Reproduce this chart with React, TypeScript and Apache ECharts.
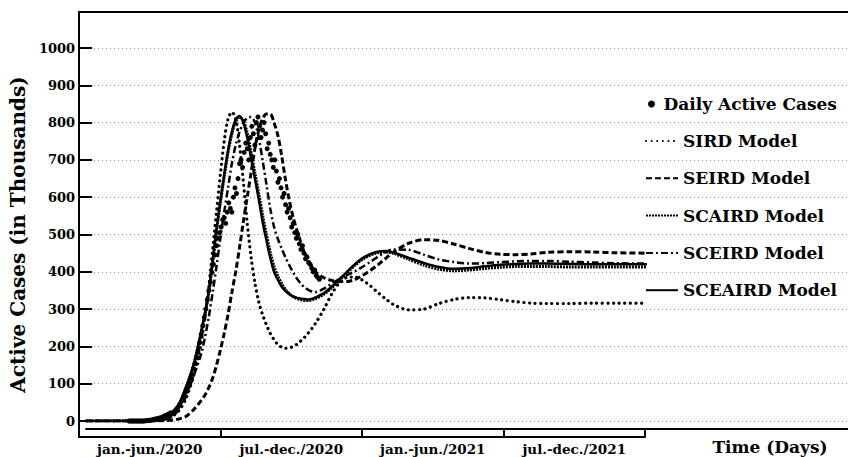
import React, { useEffect, useRef } from "react";
import * as echarts from "echarts";

const halfYears = ["jan.-jun./2020", "jul.-dec./2020", "jan.-jun./2021", "jul.-dec./2021"];

// Daily observed active cases (thousands), every 2 days starting at day 56
const dailyStart = 56;
const dailyStep = 2;
const dailyValues = [
  0, 0, 0, 0, 0, 0, 0, 0, 0, 0,
  0, 1, 1, 2, 2, 3, 4, 5, 6, 7,
  8, 9, 11, 13, 15, 17, 19, 22, 20, 24,
  28, 33, 38, 45, 52, 60, 68, 78, 88, 100,
  112, 125, 140, 155, 172, 190, 210, 232, 255, 278,
  300, 325, 350, 372, 398, 420, 445, 470, 490, 505,
  520, 540, 545, 530, 560, 585, 570, 560, 600, 625,
  610, 650, 690, 700, 680, 720, 745, 730, 700, 760,
  790, 770, 740, 800, 815, 790, 760, 780, 800, 770,
  730, 745, 715, 700, 680, 700, 670, 640, 650, 625,
  600, 610, 580, 560, 570, 545, 520, 530, 505, 490,
  500, 475, 460, 470, 450, 435, 440, 425, 420, 410,
  400, 405, 390, 385, 380,
];

const modelDays = [
  0, 30, 60, 90,
  100, 110, 120, 130, 140, 150,
  155, 160, 165, 170, 175, 180, 185, 190, 195, 200,
  205, 210, 215, 220, 225, 230, 235, 240, 245, 250,
  255, 260, 265, 270, 275, 280, 285, 290, 295, 300,
  310, 320, 330, 340, 350, 360, 370, 380, 390, 400,
  420, 440, 460, 480, 500, 520, 540, 560, 580, 600,
  630, 660, 690, 731,
];

const sirdValues = [
  0, 0, 0, 1,
  3, 10, 25, 60, 120, 210,
  280, 360, 460, 560, 660, 750, 810, 828, 810, 740,
  640, 530, 440, 370, 320, 285, 258, 235, 218, 205,
  198, 195, 196, 200, 206, 215, 225, 237, 250, 265,
  300, 340, 370, 385, 386, 378, 363, 345, 328, 313,
  298, 300, 315, 326, 331, 330, 325, 320, 316, 315,
  315, 316, 316, 316,
];

const seirdValues = [
  0, 0, 0, 0,
  1, 2, 5, 12, 30, 55,
  70, 90, 115, 150, 190, 235, 285, 345, 400, 465,
  535, 600, 665, 730, 780, 810, 823, 823, 800, 765,
  710, 645, 590, 545, 510, 478, 450, 430, 412, 398,
  384, 377, 374, 374, 379, 390, 403, 418, 435, 452,
  476, 486, 484, 474, 462, 452, 447, 446, 448, 452,
  454, 453, 451, 450,
];

const scairdValues = [
  0, 0, 0, 1,
  4, 14, 38, 88, 148, 236,
  286, 345, 425, 510, 585, 655, 720, 770, 803, 815,
  805, 772, 720, 665, 610, 552, 500, 452, 414, 388,
  368, 352, 341, 333, 328, 325, 323, 323, 325, 329,
  340, 357, 377, 397, 417, 433, 444, 451, 453, 450,
  434, 418, 407, 403, 405, 409, 412, 414, 414, 414,
  413, 413, 413, 413,
];

const sceirdValues = [
  0, 0, 0, 1,
  3, 10, 28, 65, 120, 180,
  225, 280, 345, 415, 490, 560, 625, 690, 740, 775,
  800, 812, 815, 800, 760, 700, 635, 570, 520, 488,
  462, 438, 417, 398, 381, 368, 358, 351, 347, 346,
  355, 368, 381, 391, 401, 413, 426, 440, 452, 460,
  459, 446, 433, 426, 422, 423, 426, 428, 429, 429,
  427, 425, 423, 422,
];

const sceairdValues = [
  0, 0, 0, 1,
  5, 15, 40, 90, 150, 240,
  290, 350, 430, 515, 590, 660, 725, 775, 808, 818,
  800, 760, 705, 650, 595, 535, 485, 438, 400, 378,
  360, 348, 340, 334, 330, 328, 327, 326, 328, 332,
  343, 360, 380, 400, 420, 436, 447, 454, 456, 452,
  438, 424, 413, 408, 410, 415, 419, 421, 422, 422,
  421, 420, 420, 420,
];

const FONT = "DejaVu Serif";

function pairs(days: number[], vals: number[]) {
  return days.map((d, i) => [d, vals[i]]);
}

export default function App() {
  const ref = useRef<HTMLDivElement>(null);
  useEffect(() => {
    document.body.style.margin = "0";
    if (!ref.current) return;
    const chart = echarts.init(ref.current, undefined, { renderer: "svg" });
    const dailyData = dailyValues.map((v, i) => [dailyStart + i * dailyStep, v]);
    const lineBase = {
      type: "line",
      symbol: "none",
      smooth: 0.3,
      xAxisIndex: 0,
      yAxisIndex: 0,
    };
    const legendText = { color: "#000", fontFamily: FONT, fontWeight: "bold", fontSize: 17, lineHeight: 20 };
    chart.setOption({
      animation: false,
      backgroundColor: "#fff",
      grid: [
        { left: 79, right: 0, top: 48, bottom: 36, containLabel: false },
        { left: 79, width: 566, top: 429, height: 8, containLabel: false },
      ],
      xAxis: [
        {
          type: "value",
          gridIndex: 0,
          min: 0,
          max: 993,
          offset: 8,
          axisLine: { show: true, onZero: false, lineStyle: { color: "#000", width: 2 } },
          axisTick: { show: false },
          axisLabel: { show: false },
          splitLine: { show: false },
        },
        {
          type: "category",
          gridIndex: 1,
          data: halfYears,
          position: "bottom",
          boundaryGap: true,
          axisLine: { show: true, lineStyle: { color: "#000", width: 2 } },
          axisTick: {
            show: true,
            inside: true,
            length: 8,
            interval: 0,
            alignWithLabel: false,
            lineStyle: { color: "#000", width: 2 },
          },
          axisLabel: {
            color: "#000",
            fontFamily: FONT,
            fontWeight: "bold",
            fontSize: 13.5,
            margin: 5,
            interval: 0,
            hideOverlap: false,
          },
          splitLine: { show: false },
        },
      ],
      yAxis: [
        {
          type: "value",
          gridIndex: 0,
          min: 0,
          max: 1000,
          interval: 100,
          name: "Active Cases (in Thousands)",
          nameLocation: "middle",
          nameRotate: 90,
          nameGap: 58,
          nameTextStyle: { color: "#000", fontFamily: FONT, fontWeight: "bold", fontSize: 20 },
          axisLine: { show: false },
          axisTick: { show: true, length: 8, lineStyle: { color: "#000", width: 2 } },
          axisLabel: {
            color: "#000",
            fontFamily: FONT,
            fontWeight: "bold",
            fontSize: 13,
            margin: 11,
            formatter: (v: number) => String(v),
          },
          splitLine: { show: true, lineStyle: { color: "#888", width: 1, type: [1, 3] } },
        },
        {
          type: "value",
          gridIndex: 0,
          min: 0,
          max: 1000,
          interval: 100,
          position: "left",
          axisLine: { show: false },
          axisTick: { show: true, inside: true, length: 6, lineStyle: { color: "#000", width: 2 } },
          axisLabel: { show: false },
          splitLine: { show: false },
        },
        { type: "value", gridIndex: 1, show: false, min: 0, max: 1 },
      ],
      legend: [
        {
          data: ["Daily Active Cases"],
          orient: "vertical",
          left: 648,
          top: 94,
          padding: 0,
          icon: "circle",
          itemWidth: 14,
          itemHeight: 7,
          itemGap: 17,
          itemStyle: { color: "#000", opacity: 1 },
          textStyle: legendText,
        },
        {
          data: ["SIRD Model", "SEIRD Model", "SCAIRD Model", "SCEIRD Model", "SCEAIRD Model"],
          orient: "vertical",
          left: 645,
          top: 131,
          padding: 0,
          itemWidth: 32,
          itemHeight: 14,
          itemGap: 17.3,
          itemStyle: { opacity: 0, borderWidth: 0 },
          textStyle: legendText,
        },
      ],
      graphic: [
        { type: "line", shape: { x1: 79, y1: 12, x2: 848, y2: 12 }, style: { stroke: "#000", lineWidth: 2 } },
        { type: "line", shape: { x1: 79, y1: 11, x2: 79, y2: 438 }, style: { stroke: "#000", lineWidth: 2 } },
        {
          type: "text",
          x: 770,
          y: 447,
          style: {
            text: "Time (Days)",
            fill: "#000",
            font: `bold 17px '${FONT}'`,
            align: "center",
            verticalAlign: "middle",
          },
        },
      ],
      series: [
        {
          ...lineBase,
          name: "SIRD Model",
          data: pairs(modelDays, sirdValues),
          lineStyle: { color: "#000", width: 3.2, type: [0.1, 5.5], cap: "round" },
          itemStyle: { color: "#000" },
        },
        {
          ...lineBase,
          name: "SEIRD Model",
          data: pairs(modelDays, seirdValues),
          lineStyle: { color: "#000", width: 3, type: [6, 3] },
          itemStyle: { color: "#000" },
        },
        {
          ...lineBase,
          name: "SCAIRD Model",
          data: pairs(modelDays, scairdValues),
          lineStyle: { color: "#000", width: 3, type: [2, 1] },
          itemStyle: { color: "#000" },
        },
        {
          ...lineBase,
          name: "SCEIRD Model",
          data: pairs(modelDays, sceirdValues),
          lineStyle: { color: "#000", width: 2.5, type: [7, 3, 2, 3] },
          itemStyle: { color: "#000" },
        },
        {
          ...lineBase,
          name: "SCEAIRD Model",
          data: pairs(modelDays, sceairdValues),
          lineStyle: { color: "#000", width: 2.5 },
          itemStyle: { color: "#000" },
        },
        {
          type: "scatter",
          name: "Daily Active Cases",
          xAxisIndex: 0,
          yAxisIndex: 0,
          data: dailyData,
          symbol: "circle",
          symbolSize: 5,
          itemStyle: { color: "#000", opacity: 1 },
          z: 5,
        },
      ],
    });
    return () => chart.dispose();
  }, []);
  return <div ref={ref} style={{ width: 848, height: 457 }} />;
}
